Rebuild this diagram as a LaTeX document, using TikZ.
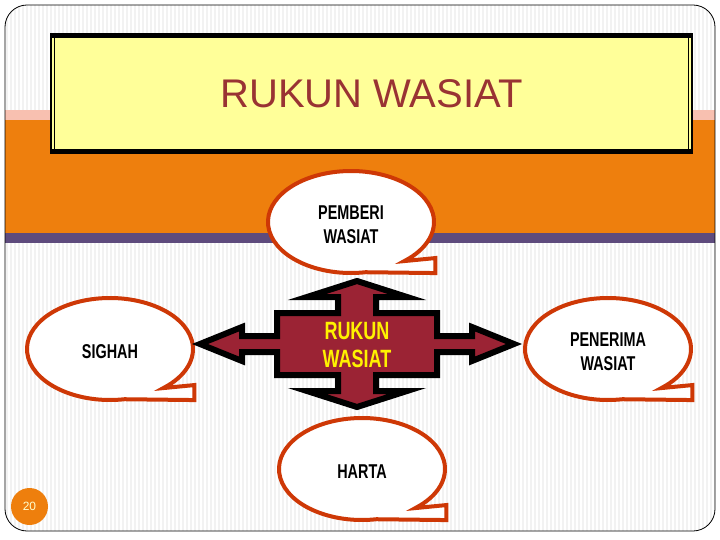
\documentclass[tikz,border=0pt]{standalone}
\usepackage{fontspec}
\setmainfont{Liberation Sans}
\newfontfamily\impactfont{Liberation Sans}[FakeStretch=0.72]
\usepackage{tikz}
\usetikzlibrary{backgrounds}

\definecolor{bubblered}{RGB}{206,56,6}
\definecolor{crossred}{RGB}{155,35,52}
\definecolor{titlered}{RGB}{153,51,51}
\definecolor{titleyellow}{RGB}{255,255,153}
\definecolor{bandorange}{RGB}{238,127,13}
\definecolor{bandpink}{RGB}{248,192,176}
\definecolor{bandpurple}{RGB}{94,75,125}
\definecolor{numcream}{RGB}{255,255,204}

\begin{document}
\begin{tikzpicture}[
    x=1pt, y=-1pt,
    every node/.style={align=center},
    stripe/.style={gray!10, line width=1.5pt},
    titlebox/.style={draw, line width=1.2pt, fill=titleyellow, minimum width=641pt, minimum height=119pt,
        text=titlered, font=\fontsize{40}{48}\selectfont},
    bubble/.style={font=\impactfont\bfseries\fontsize{20}{24}\selectfont},
    bubble line/.style={draw=bubblered, fill=white, line width=4pt, line join=miter},
    crossarrow/.style={draw=black, fill=crossred, line width=6pt, line join=miter},
    crosstext/.style={text=yellow, font=\impactfont\bfseries\fontsize{25}{28}\selectfont},
    pagenum/.style={circle, fill=bandorange, minimum size=37pt, inner sep=0pt, text=numcream,
        font=\fontsize{12}{14}\selectfont}
]
\useasboundingbox (0,0) rectangle (720,540);

% slide background
\begin{scope}[on background layer]
  \begin{scope}
    \clip[rounded corners=22pt] (5,5) rectangle (715,531);
    \foreach \x in {7,11,...,715}
      \draw[stripe] (\x,5) -- (\x,531);
  \end{scope}
  \fill[bandpink] (5,110) rectangle (715,120);
  \fill[bandorange] (5,120) rectangle (715,233);
  \fill[bandpurple] (5,233) rectangle (715,243);
  \draw[line width=0.8pt, rounded corners=22pt] (5,5) rectangle (715,531);
\end{scope}

% title
\node[titlebox] (title) at (371.5,93.5) {RUKUN WASIAT};
\draw[line width=1.2pt] ([shift={(4,4)}]title.north west) rectangle ([shift={(-4,-4)}]title.south east);
\fill (title.north west) rectangle ([shift={(0,5)}]title.north east);
\fill ([shift={(0,-5)}]title.south west) rectangle (title.south east);

% four-way arrow
\begin{scope}[shift={(357,344)}]
  \draw[crossarrow] (0,-63) -- (50,-47) -- (19,-47) -- (19,-31) -- (80,-31) -- (80,-8)
    -- (115,-8) -- (115,-17) -- (157,0) -- (115,17) -- (115,8) -- (80,8) -- (80,31)
    -- (19,31) -- (19,47) -- (50,47) -- (0,63) -- (-50,47) -- (-19,47) -- (-19,31)
    -- (-80,31) -- (-80,8) -- (-115,8) -- (-115,17) -- (-157,0) -- (-115,-17)
    -- (-115,-8) -- (-80,-8) -- (-80,-31) -- (-19,-31) -- (-19,-47) -- (-50,-47) -- cycle;
  \node[crosstext] (rukun) at (0,1) {RUKUN\\WASIAT};
\end{scope}

% speech bubbles
\node[bubble] (pemberi) at (351,225) {PEMBERI\\WASIAT};
\node[bubble] (sighah) at (110,352) {SIGHAH};
\node[bubble] (penerima) at (608,352) {PENERIMA\\WASIAT};
\node[bubble] (harta) at (362,472) {HARTA};

\begin{scope}[on background layer]
  \foreach \n in {pemberi,sighah,penerima,harta}
    \draw[bubble line] (\n.center) ++(0,-3) ++(80:83 and 51)
      arc[start angle=80, end angle=410, x radius=83, y radius=51]
      -- ++(31,-3) -- ++(0,15) -- cycle;
\end{scope}

% page number
\node[pagenum] (page) at (29.5,506.5) {20};

\end{tikzpicture}
\end{document}
